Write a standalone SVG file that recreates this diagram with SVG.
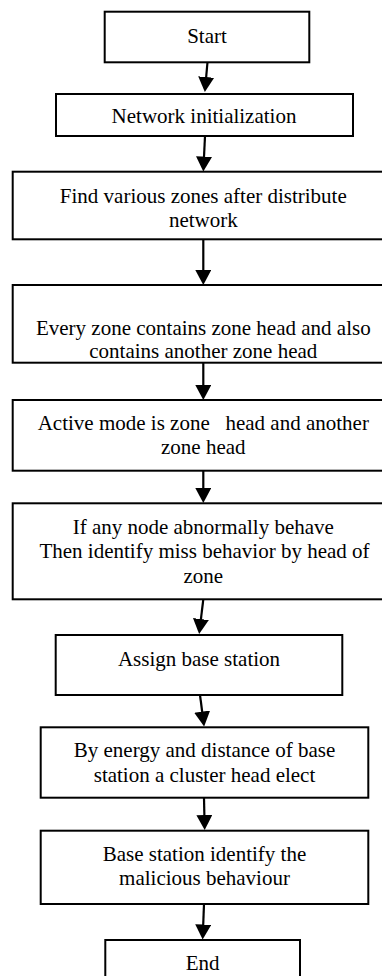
<svg xmlns="http://www.w3.org/2000/svg" width="382" height="976" viewBox="0 0 382 976">
<defs>
<style>
.box{fill:#ffffff;stroke:#000000;stroke-width:2}
.t{font-family:'Liberation Serif','Times New Roman',Tinos,'DejaVu Serif',serif;font-size:21px;fill:#000000;text-anchor:middle}
.c{stroke:#000000;stroke-width:2.2;fill:none;marker-end:url(#ah)}
</style>
<marker id="ah" viewBox="0 0 15 16" refX="11" refY="8" markerWidth="15" markerHeight="16" markerUnits="userSpaceOnUse" orient="auto">
<path d="M0,0 L15,8 L0,16 z" fill="#000000"/>
</marker>
</defs>
<rect x="0" y="0" width="382" height="976" fill="#ffffff"/>
<g id="connectors">
<line class="c" x1="207.5" y1="62" x2="205.2" y2="88"/>
<line class="c" x1="205" y1="136" x2="203.5" y2="167.5"/>
<line class="c" x1="203.3" y1="239.3" x2="203.3" y2="281"/>
<line class="c" x1="203.3" y1="362.7" x2="203.3" y2="396"/>
<line class="c" x1="203.3" y1="470.7" x2="203.3" y2="499"/>
<line class="c" x1="203.3" y1="599.3" x2="199.6" y2="630"/>
<line class="c" x1="200" y1="695" x2="203.6" y2="722.5"/>
<line class="c" x1="204" y1="797.7" x2="204.6" y2="826"/>
<line class="c" x1="204" y1="904" x2="202.8" y2="935.5"/>
</g>
<g font-family="Liberation Serif, Times New Roman, serif">
<g id="start">
<rect class="box" x="104.7" y="11.7" width="204.6" height="50.6"/>
<text class="t" x="207" y="43">Start</text>
</g>
<g id="network-init">
<rect class="box" x="56" y="94" width="297" height="42"/>
<text class="t" x="204" y="122.5">Network initialization</text>
</g>
<g id="find-zones">
<rect class="box" x="12.7" y="171.7" width="382" height="67.6"/>
<text class="t" x="203.3" y="202.7">Find various zones after distribute</text>
<text class="t" x="203.3" y="226.7">network</text>
</g>
<g id="every-zone">
<rect class="box" x="12.7" y="285" width="382" height="77.7"/>
<text class="t" x="203.3" y="334.5">Every zone contains zone head and also</text>
<text class="t" x="203.3" y="358">contains another zone head</text>
</g>
<g id="active-mode">
<rect class="box" x="12.7" y="400" width="382" height="70.7"/>
<text class="t" x="203.3" y="430" xml:space="preserve">Active mode is zone   head and another</text>
<text class="t" x="203.3" y="454">zone head</text>
</g>
<g id="abnormal">
<rect class="box" x="12.7" y="503.3" width="382" height="96"/>
<text class="t" x="203.3" y="534.3">If any node abnormally behave</text>
<text class="t" x="204.5" y="558.3">Then identify miss behavior by head of</text>
<text class="t" x="203.3" y="583.3">zone</text>
</g>
<g id="assign-bs">
<rect class="box" x="55.7" y="635" width="286.6" height="60"/>
<text class="t" x="199" y="666">Assign base station</text>
</g>
<g id="elect-ch">
<rect class="box" x="40.7" y="727.3" width="327.6" height="70.4"/>
<text class="t" x="204.5" y="756.7">By energy and distance of base</text>
<text class="t" x="204.5" y="781.7">station a cluster head elect</text>
</g>
<g id="identify-malicious">
<rect class="box" x="40.7" y="830.7" width="327.6" height="73.3"/>
<text class="t" x="204.5" y="860.7">Base station identify the</text>
<text class="t" x="204.5" y="885">malicious behaviour</text>
</g>
<g id="end">
<rect class="box" x="105.3" y="940" width="194.7" height="60"/>
<text class="t" x="202.7" y="970">End</text>
</g>
</g>
</svg>
